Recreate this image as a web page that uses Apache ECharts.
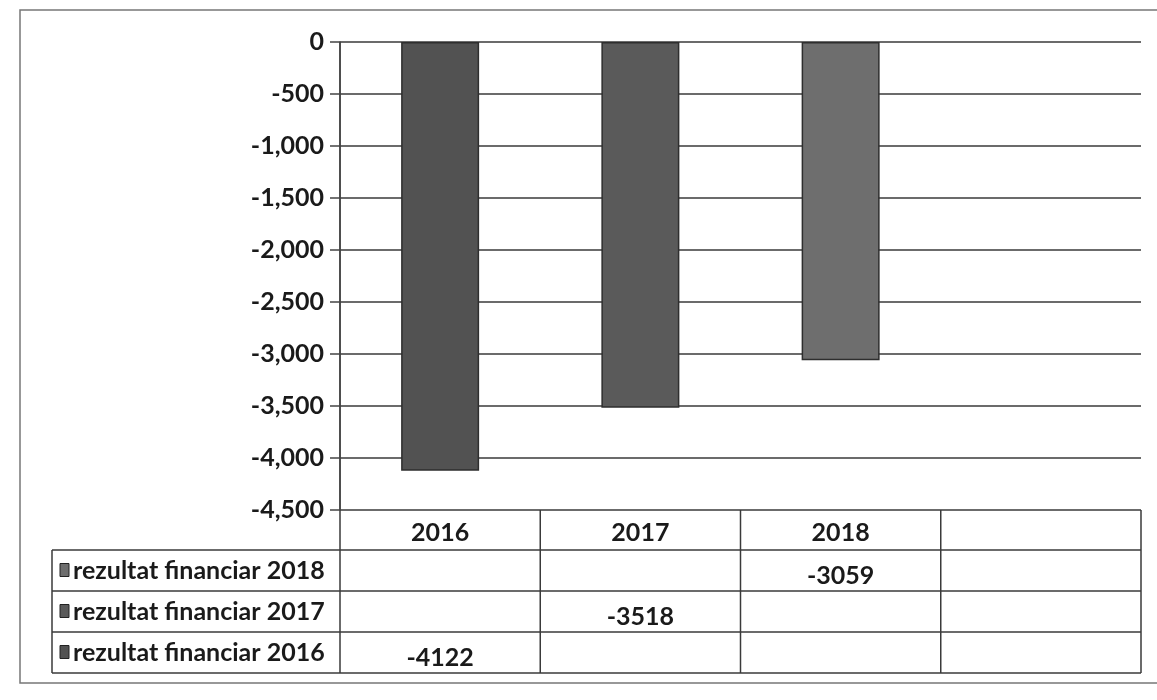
<!DOCTYPE html>
<html><head><meta charset="utf-8">
<script src="https://cdn.jsdelivr.net/npm/echarts@6/dist/echarts.min.js"></script>
<style>html,body{margin:0;background:#fff}#c{width:1157px;height:700px}</style>
</head><body><div id="c"></div>
<script>
const categories = ['2016', '2017', '2018', ''];
const seriesNames = ['rezultat financiar 2018', 'rezultat financiar 2017', 'rezultat financiar 2016'];
const values2018 = [null, null, -3059, null];
const values2017 = [null, -3518, null, null];
const values2016 = [-4122, null, null, null];
const yMin = -4500, yMax = 0, yStep = 500;
const colors = ['#6e6e6e', '#5a5a5a', '#525252'];
const tableRows = [values2018, values2017, values2016];

const FONT = 'Lato, "Open Sans", sans-serif';
const FS = 25;
const chart = echarts.init(document.getElementById('c'), null, {renderer: 'canvas'});

function mkSeries(name, data, color) {
  return {
    name, type: 'bar', stack: 'all', data, barWidth: 78,
    itemStyle: {color, borderColor: '#2e2e2e', borderWidth: 1.5},
    silent: true
  };
}

chart.setOption({
  animation: false,
  backgroundColor: '#fff',
  grid: {left: 340, right: 16, top: 42, bottom: 190},
  xAxis: {
    type: 'category', data: categories, position: 'bottom',
    axisLine: {show: false}, axisTick: {show: false},
    axisLabel: {color: '#1a1a1a', fontFamily: FONT, fontWeight: 'bold', fontSize: FS, margin: 10}
  },
  yAxis: {
    type: 'value', min: yMin, max: yMax, interval: yStep,
    axisLine: {show: true, lineStyle: {color: '#444', width: 1.5}},
    axisTick: {show: true, length: 10, lineStyle: {color: '#444', width: 1.5}},
    splitLine: {show: true, lineStyle: {color: '#3a3a3a', width: 1.5}},
    axisLabel: {color: '#1a1a1a', fontFamily: FONT, fontWeight: 'bold', fontSize: FS, margin: 16,
      formatter: v => Number(v).toLocaleString('en-US')}
  },
  series: [
    mkSeries(seriesNames[2], values2016, colors[2]),
    mkSeries(seriesNames[1], values2017, colors[1]),
    mkSeries(seriesNames[0], values2018, colors[0])
  ]
});

// Data table beneath the plot, positioned from the chart's own scales
const bottomY = chart.convertToPixel({yAxisIndex: 0}, yMin);
const topY = chart.convertToPixel({yAxisIndex: 0}, yMax);
const c0 = chart.convertToPixel({xAxisIndex: 0}, categories[0]);
const c1 = chart.convertToPixel({xAxisIndex: 0}, categories[1]);
const colW = c1 - c0;
const leftX = c0 - colW / 2;
const rightX = leftX + colW * categories.length;
const labelLeft = 52;
const headerH = 40, rowH = 41;
const lineStyle = {stroke: '#3a3a3a', lineWidth: 1.5};
const g = [];
// outer frame
g.push({type: 'polyline', shape: {points: [[1160, 10], [20, 10], [20, 683], [1160, 683]]}, style: {stroke: '#777', lineWidth: 1.5, fill: null}, silent: true});
// horizontal table lines
for (let r = 0; r <= tableRows.length; r++) {
  const y = bottomY + headerH + r * rowH;
  g.push({type: 'line', shape: {x1: labelLeft, y1: y, x2: rightX, y2: y}, style: lineStyle, silent: true});
}
const tableBottom = bottomY + headerH + tableRows.length * rowH;
// vertical lines
g.push({type: 'line', shape: {x1: labelLeft, y1: bottomY + headerH, x2: labelLeft, y2: tableBottom}, style: lineStyle, silent: true});
for (let i = 0; i <= categories.length; i++) {
  const x = leftX + i * colW;
  g.push({type: 'line', shape: {x1: x, y1: (i === 0 ? topY : bottomY), x2: x, y2: tableBottom}, style: lineStyle, silent: true});
}
// row labels with markers and values
tableRows.forEach((vals, r) => {
  const yc = bottomY + headerH + r * rowH + rowH / 2;
  g.push({type: 'rect', shape: {x: 60, y: yc - 7, width: 9, height: 13}, style: {fill: colors[r], stroke: '#222', lineWidth: 1}, silent: true});
  g.push({type: 'text', style: {x: 73, y: yc, text: seriesNames[r], fill: '#1a1a1a', font: 'bold ' + FS + 'px ' + FONT, textVerticalAlign: 'middle', textAlign: 'left'}, silent: true});
  vals.forEach((v, i) => {
    if (v == null) return;
    const x = chart.convertToPixel({xAxisIndex: 0}, categories[i]);
    g.push({type: 'text', style: {x, y: yc + 5, text: String(v), fill: '#1a1a1a', font: 'bold ' + FS + 'px ' + FONT, textVerticalAlign: 'middle', textAlign: 'center'}, silent: true});
  });
});
chart.setOption({graphic: g});
</script></body></html>
